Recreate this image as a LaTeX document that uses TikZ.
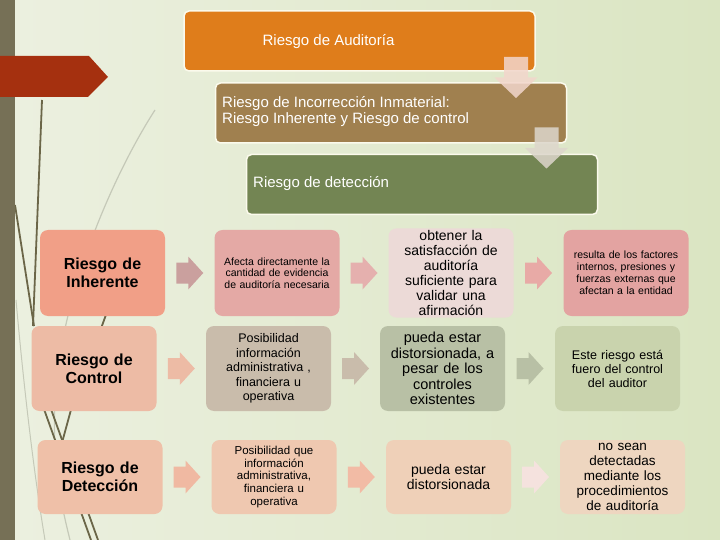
\documentclass[tikz,border=0pt]{standalone}
\usepackage{fontspec}
\setmainfont{Liberation Sans}
\usetikzlibrary{calc}
\definecolor{bgL}{HTML}{ECF0E0}
\definecolor{bgM}{HTML}{F1F4EA}
\definecolor{bgR}{HTML}{DAE5C2}
\definecolor{barc}{HTML}{767056}
\definecolor{redarr}{HTML}{A5300F}
\definecolor{deco}{HTML}{6B6648}
\definecolor{decol}{HTML}{C5C9B8}
\definecolor{torange}{HTML}{DF7D1B}
\definecolor{tbrown}{HTML}{A0804F}
\definecolor{tgreen}{HTML}{738553}
\definecolor{tborder}{HTML}{FBFAEC}
\definecolor{darrA}{HTML}{F2D6CC}
\definecolor{darrB}{HTML}{DDD6CC}
% row 1
\definecolor{ra}{HTML}{F19F87}
\definecolor{rb}{HTML}{E4A9A5}
\definecolor{rc}{HTML}{ECDAD7}
\definecolor{rd}{HTML}{E3A3A1}
\definecolor{raA}{HTML}{CAA09E}
\definecolor{raB}{HTML}{E5B0AE}
\definecolor{raC}{HTML}{E8AAA6}
% row 2
\definecolor{sa}{HTML}{EDBBA5}
\definecolor{sb}{HTML}{C9BCAB}
\definecolor{sc}{HTML}{B8C0A5}
\definecolor{sd}{HTML}{C9D3AD}
% row 3
\definecolor{ta}{HTML}{EFC0A8}
\definecolor{tb}{HTML}{EFC8B0}
\definecolor{tc}{HTML}{EFD0B8}
\definecolor{td}{HTML}{EED6C0}
\definecolor{taA}{HTML}{F0B9A2}
\definecolor{taB}{HTML}{F2BBA5}
\definecolor{taC}{HTML}{F5E2DE}
\tikzset{
  topbox/.style={draw=tborder, line width=1.5pt, rounded corners=5pt, minimum width=351, minimum height=60, inner sep=0pt},
  toptext/.style={text=white, font=\fontsize{15}{16}\selectfont, align=left, inner sep=0pt},
  gbox/.style={rounded corners=8pt, minimum width=125, minimum height=#1, inner sep=2pt, align=center, text width=120, text=black},
  hfont/.style={font=\fontsize{16}{18}\selectfont\bfseries},
  pics/rarr/.style={code={\fill[#1] (-13.5,-10.5) -- (-1.5,-10.5) -- (-1.5,-16.5) -- (13.5,0) -- (-1.5,16.5) -- (-1.5,10.5) -- (-13.5,10.5) -- cycle;}},
  pics/darr/.style={code={\fill[#1, opacity=0.85] (-12,-20.5) -- (12,-20.5) -- (12,0) -- (21.5,0) -- (0,20.5) -- (-21.5,0) -- (-12,0) -- cycle;}}
}
\begin{document}
\begin{tikzpicture}[x=1pt,y=-1pt]
\useasboundingbox (0,0) rectangle (720,540);
% background
\shade[left color=bgL, middle color=bgM, right color=bgR] (0,0) rectangle (720,540);
% decorative lines
\draw[decol, line width=1.2pt] (155,110) .. controls (110,180) and (60,300) .. (55,400) .. controls (52,460) and (60,500) .. (70,540);
\draw[decol, line width=1pt] (16,300) .. controls (25,400) and (35,480) .. (45,540);
\draw[deco, line width=1.8pt] (42,100) -- (33,326);
\draw[deco, line width=1.8pt] (15,205) -- (34,326);
\draw[deco, line width=1.8pt] (115,290) -- (95,345);
\draw[deco, line width=1.8pt] (40,398) -- (91,540);
\draw[deco, line width=1.8pt] (47,398) -- (98,540);
\draw[deco, line width=1.8pt] (75,395) -- (60,450);
% left bar and red arrow
\fill[barc] (0,0) rectangle (15,540);
\fill[redarr] (0,56) -- (89,56) -- (108,77) -- (88,97) -- (0,97) -- cycle;
% top boxes
\node[topbox, fill=torange] (t1) at (359.5,41) {};
\node[toptext] (t1t) at (328.5,42) {Riesgo de Auditoría};
\node[topbox, fill=tbrown] (t2) at (391,113) {};
\node[toptext, anchor=west] (t2t) at (222,112) {Riesgo de Incorrección Inmaterial:\\Riesgo Inherente y Riesgo de control};
\node[topbox, fill=tgreen] (t3) at (422,184.5) {};
\node[toptext, anchor=west] (t3t) at (253,184) {Riesgo de detección};
\pic at (516,77.5) {darr=darrA};
\pic at (546.5,148) {darr=darrB};
% row 1
\node[gbox=86, fill=ra, hfont] (r1a) at (102.5,273) {Riesgo de\\Inherente};
\node[gbox=86, fill=rb, font=\fontsize{10.5}{11.5}\selectfont] (r1b) at (277,273) {Afecta directamente la\\cantidad de evidencia\\de auditoría  necesaria};
\node[gbox=86, fill=rc, font=\fontsize{14}{15}\selectfont] (r1c) at (451,273) {obtener la\\satisfacción de\\auditoría\\suficiente para\\validar una\\afirmación};
\node[gbox=86, fill=rd, font=\fontsize{10.5}{12}\selectfont] (r1d) at (626,273) {resulta de los factores\\internos, presiones y\\fuerzas externas que\\afectan a la entidad};
\pic at ($(r1a.east)!0.5!(r1b.west)$) {rarr=raA};
\pic at ($(r1b.east)!0.5!(r1c.west)$) {rarr=raB};
\pic at ($(r1c.east)!0.5!(r1d.west)$) {rarr=raC};
% row 2
\node[gbox=85, fill=sa, hfont] (r2a) at (94,368.5) {Riesgo de\\Control};
\node[gbox=85, fill=sb, font=\fontsize{12.5}{14.5}\selectfont] (r2b) at (268.5,368.5) {Posibilidad\\información\\administrativa ,\\financiera u\\operativa};
\node[gbox=85, fill=sc, font=\fontsize{14.5}{15.5}\selectfont] (r2c) at (442.5,368.5) {pueda estar\\distorsionada, a\\pesar de los\\controles\\existentes};
\node[gbox=85, fill=sd, font=\fontsize{12.5}{14}\selectfont] (r2d) at (617.5,368.5) {Este riesgo está\\fuero del control\\del auditor};
\pic at ($(r2a.east)!0.5!(r2b.west)$) {rarr=sa};
\pic at ($(r2b.east)!0.5!(r2c.west)$) {rarr=sb};
\pic at ($(r2c.east)!0.5!(r2d.west)$) {rarr=sc};
% row 3
\node[gbox=74, fill=ta, hfont] (r3a) at (100,477) {Riesgo de\\Detección};
\node[gbox=74, fill=tb, font=\fontsize{11.5}{12.8}\selectfont] (r3b) at (274,477) {Posibilidad que\\información\\administrativa,\\financiera u\\operativa};
\node[gbox=74, fill=tc, font=\fontsize{14}{15}\selectfont] (r3c) at (448.5,477) {pueda estar\\distorsionada};
\node[gbox=74, fill=td, font=\fontsize{13.5}{15}\selectfont] (r3d) at (622.5,477) {no sean\\detectadas\\mediante los\\procedimientos\\de auditoría};
\pic at ($(r3a.east)!0.5!(r3b.west)$) {rarr=taA};
\pic at ($(r3b.east)!0.5!(r3c.west)$) {rarr=taB};
\pic at ($(r3c.east)!0.5!(r3d.west)$) {rarr=taC};
\end{tikzpicture}
\end{document}
